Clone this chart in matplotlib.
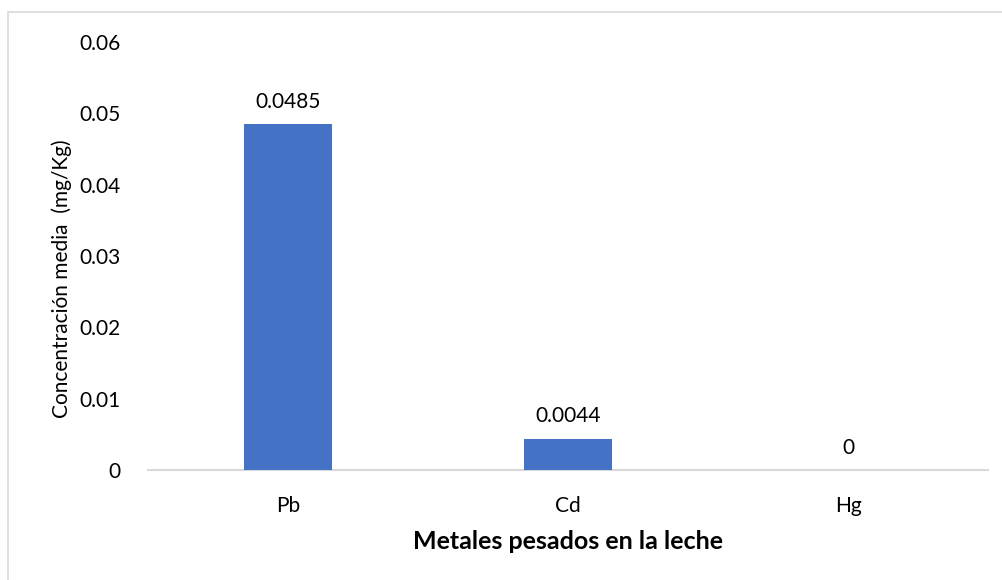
import matplotlib.pyplot as plt
import matplotlib.patches as mpatches
import numpy as np

# --- data ---
METALS = ["Pb", "Cd", "Hg"]
CONC = [0.0485, 0.0044, 0.0]
LABELS = ["0.0485", "0.0044", "0"]
YTICKS = [0, 0.01, 0.02, 0.03, 0.04, 0.05, 0.06]
YTICK_LABELS = ["0", "0.01", "0.02", "0.03", "0.04", "0.05", "0.06"]

BAR_COLOR = "#4472C4"
plt.rcParams["font.family"] = ["Lato", "DejaVu Sans"]

fig = plt.figure(figsize=(10.03, 5.80), dpi=100)
ax = fig.add_axes([0.1476, 0.1897, 0.8375, 0.7379])

x = np.arange(len(METALS))
ax.bar(x, CONC, width=0.315, color=BAR_COLOR, zorder=3)
for xi, v, lab in zip(x, CONC, LABELS):
    ax.text(xi, v + 0.0017, lab, ha="center", va="bottom", fontsize=15, color="#000000")

ax.set_xlim(-0.5, 2.5)
ax.set_ylim(0, 0.06)
ax.set_yticks(YTICKS)
ax.set_yticklabels(YTICK_LABELS)
ax.set_xticks(x)
ax.set_xticklabels(METALS)
ax.tick_params(axis="both", length=0, labelsize=15, colors="#000000")
ax.tick_params(axis="y", pad=20)
ax.tick_params(axis="x", pad=19)

for s in ["top", "right", "left"]:
    ax.spines[s].set_visible(False)
ax.spines["bottom"].set_color("#D9D9D9")
ax.spines["bottom"].set_linewidth(1.5)

ax.set_ylabel("Concentración media  (mg/Kg)", fontsize=15)
ax.yaxis.set_label_coords(-0.09, 0.446)
ax.set_xlabel("Metales pesados en la leche", fontsize=18, fontweight="bold", labelpad=10)

# chart area frame (right/bottom edges fall outside the canvas)
fig.patches.append(mpatches.Rectangle((8 / 1003, -10 / 580), 1010 / 1003, 578 / 580,
                                      transform=fig.transFigure, fill=False,
                                      edgecolor="#D9D9D9", linewidth=1.2))

fig.savefig("out.png", dpi=100)
